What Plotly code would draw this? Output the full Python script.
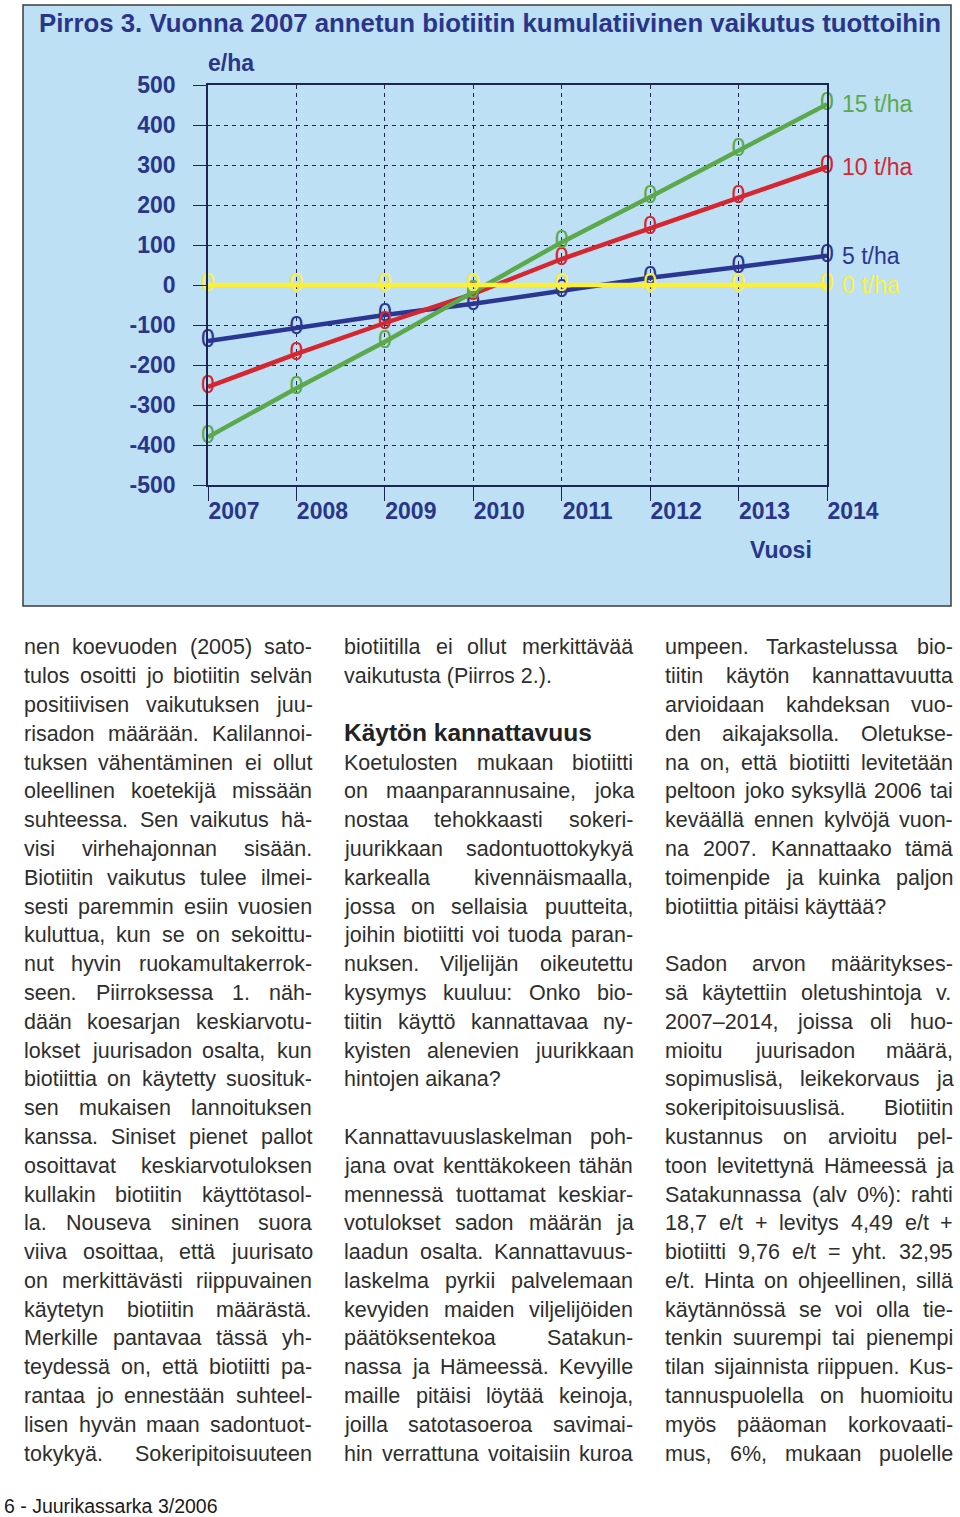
import plotly.graph_objects as go

W, H = 960, 1517

# ---------------- data ----------------
years = [2007, 2008, 2009, 2010, 2011, 2012, 2013, 2014]
effect_5 = [-140, -108, -75, -47, -15, 18, 45, 73]
effect_10 = [-255, -172, -95, -22, 65, 142, 220, 295]
effect_15 = [-380, -258, -142, -16, 107, 220, 337, 452]
effect_0 = [0, 0, 0, 0, 0, 0, 0, 0]
series_names = ["5 t/ha", "10 t/ha", "15 t/ha", "0 t/ha"]
y_ticks = [-500, -400, -300, -200, -100, 0, 100, 200, 300, 400, 500]
y_ticktext = ["-500", "-400", "-300", "-200", "-100", "0", "100", "200", "300", "400", "500"]
x_ticktext = ["2007", "2008", "2009", "2010", "2011", "2012", "2013", "2014"]

title_text = "Pirros 3. Vuonna 2007 annetun biotiitin kumulatiivinen vaikutus tuottoihin"
y_label = "e/ha"
x_label = "Vuosi"
footer_text = "6 - Juurikassarka 3/2006"

# body text: (line, justified)
col1 = [
    ("nen koevuoden (2005) sato-", True),
    ("tulos osoitti jo biotiitin selvän", True),
    ("positiivisen vaikutuksen juu-", True),
    ("risadon määrään. Kalilannoi-", True),
    ("tuksen vähentäminen ei ollut", True),
    ("oleellinen koetekijä missään", True),
    ("suhteessa. Sen vaikutus hä-", True),
    ("visi virhehajonnan sisään.", True),
    ("Biotiitin vaikutus tulee ilmei-", True),
    ("sesti paremmin esiin vuosien", True),
    ("kuluttua, kun se on sekoittu-", True),
    ("nut hyvin ruokamultakerrok-", True),
    ("seen. Piirroksessa 1. näh-", True),
    ("dään koesarjan keskiarvotu-", True),
    ("lokset juurisadon osalta, kun", True),
    ("biotiittia on käytetty suosituk-", True),
    ("sen mukaisen lannoituksen", True),
    ("kanssa. Siniset pienet pallot", True),
    ("osoittavat keskiarvotuloksen", True),
    ("kullakin biotiitin käyttötasol-", True),
    ("la. Nouseva sininen suora", True),
    ("viiva osoittaa, että juurisato", True),
    ("on merkittävästi riippuvainen", True),
    ("käytetyn biotiitin määrästä.", True),
    ("Merkille pantavaa tässä yh-", True),
    ("teydessä on, että biotiitti pa-", True),
    ("rantaa jo ennestään suhteel-", True),
    ("lisen hyvän maan sadontuot-", True),
    ("tokykyä. Sokeripitoisuuteen", True),
]
col2 = [
    ("biotiitilla ei ollut merkittävää", True),
    ("vaikutusta (Piirros 2.).", False),
    ("", False),
    ("HEADING:Käytön kannattavuus", False),
    ("Koetulosten mukaan biotiitti", True),
    ("on maanparannusaine, joka", True),
    ("nostaa tehokkaasti sokeri-", True),
    ("juurikkaan sadontuottokykyä", True),
    ("karkealla kivennäismaalla,", True),
    ("jossa on sellaisia puutteita,", True),
    ("joihin biotiitti voi tuoda paran-", True),
    ("nuksen. Viljelijän oikeutettu", True),
    ("kysymys kuuluu: Onko bio-", True),
    ("tiitin käyttö kannattavaa ny-", True),
    ("kyisten alenevien juurikkaan", True),
    ("hintojen aikana?", False),
    ("", False),
    ("Kannattavuuslaskelman poh-", True),
    ("jana ovat kenttäkokeen tähän", True),
    ("mennessä tuottamat keskiar-", True),
    ("votulokset sadon määrän ja", True),
    ("laadun osalta. Kannattavuus-", True),
    ("laskelma pyrkii palvelemaan", True),
    ("kevyiden maiden viljelijöiden", True),
    ("päätöksentekoa Satakun-", True),
    ("nassa ja Hämeessä. Kevyille", True),
    ("maille pitäisi löytää keinoja,", True),
    ("joilla satotasoeroa savimai-", True),
    ("hin verrattuna voitaisiin kuroa", True),
]
col3 = [
    ("umpeen. Tarkastelussa bio-", True),
    ("tiitin käytön kannattavuutta", True),
    ("arvioidaan kahdeksan vuo-", True),
    ("den aikajaksolla. Oletukse-", True),
    ("na on, että biotiitti levitetään", True),
    ("peltoon joko syksyllä 2006 tai", True),
    ("keväällä ennen kylvöjä vuon-", True),
    ("na 2007. Kannattaako tämä", True),
    ("toimenpide ja kuinka paljon", True),
    ("biotiittia pitäisi käyttää?", False),
    ("", False),
    ("Sadon arvon määritykses-", True),
    ("sä käytettiin oletushintoja v.", True),
    ("2007–2014, joissa oli huo-", True),
    ("mioitu juurisadon määrä,", True),
    ("sopimuslisä, leikekorvaus ja", True),
    ("sokeripitoisuuslisä. Biotiitin", True),
    ("kustannus on arvioitu pel-", True),
    ("toon levitettynä Hämeessä ja", True),
    ("Satakunnassa (alv 0%): rahti", True),
    ("18,7 e/t + levitys 4,49 e/t +", True),
    ("biotiitti 9,76 e/t = yht. 32,95", True),
    ("e/t. Hinta on ohjeellinen, sillä", True),
    ("käytännössä se voi olla tie-", True),
    ("tenkin suurempi tai pienempi", True),
    ("tilan sijainnista riippuen. Kus-", True),
    ("tannuspuolella on huomioitu", True),
    ("myös pääoman korkovaati-", True),
    ("mus, 6%, mukaan puolelle", True),
]

# ---------------- styles ----------------
FONT = "Liberation Sans, Arial, Helvetica, sans-serif"
NAVY = "#2a3589"
LINECOL = "#1e2550"
GRID = "#1e2550"
BG = "#bde0f5"
BLUE = "#2b3592"
RED = "#d6262f"
GREEN = "#5ba94a"
YELLOW = "#fbf035"
TEXTCOL = "#2e2e2e"
colors = [BLUE, RED, GREEN, YELLOW]
values = [effect_5, effect_10, effect_15, effect_0]


def px(x):
    return x / W


def py(y):
    return 1 - y / H


# Helvetica/Arial advance widths (per 1000 em)
HW = {" ": 278, ".": 278, ",": 278, ":": 278, ";": 278, "-": 333, "–": 556,
      "(": 333, ")": 333, "?": 556, "%": 889, "/": 278, "+": 584, "=": 584,
      "ä": 556, "ö": 556, "å": 556, "Ä": 667, "Ö": 778}
HW.update(dict(zip("abcdefghijklmnopqrstuvwxyz",
                   [556, 556, 500, 556, 556, 278, 556, 556, 222, 222, 500, 222, 833,
                    556, 556, 556, 556, 333, 500, 278, 556, 500, 722, 500, 500, 500])))
HW.update(dict(zip("ABCDEFGHIJKLMNOPQRSTUVWXYZ",
                   [667, 667, 722, 722, 667, 611, 778, 722, 278, 500, 667, 556, 833,
                    722, 778, 667, 778, 722, 667, 611, 722, 667, 944, 667, 667, 611])))
for d in "0123456789":
    HW[d] = 556


def tw(s, fs):
    return sum(HW.get(c, 556) for c in s) * fs / 1000.0


fig = go.Figure()

for name, vals, col in zip(series_names, values, colors):
    fig.add_trace(go.Scatter(
        x=years, y=vals, mode="lines+text", name=name,
        text=["0"] * len(years), textposition="middle center",
        textfont=dict(family=FONT, size=25, color=col),
        line=dict(color=col, width=4.5),
        cliponaxis=False, showlegend=False, hoverinfo="skip"))

annotations = []

# series end labels
for name, vals, col in zip(series_names, values, colors):
    annotations.append(dict(
        x=years[-1], y=vals[-1], xref="x", yref="y", text=name, showarrow=False,
        xanchor="left", yanchor="middle", xshift=15, borderpad=0, borderwidth=0,
        font=dict(family=FONT, size=23, color=col)))

# title and axis labels
annotations.append(dict(x=px(39), y=py(22.5), xref="paper", yref="paper", text=title_text,
                        showarrow=False, xanchor="left", yanchor="middle", borderpad=0,
                        borderwidth=0,
                        font=dict(family=FONT, size=25.8, color=NAVY, weight="bold")))
annotations.append(dict(x=px(208), y=py(63.5), xref="paper", yref="paper", text=y_label,
                        showarrow=False, xanchor="left", yanchor="middle", borderpad=0,
                        borderwidth=0,
                        font=dict(family=FONT, size=23, color=NAVY, weight="bold")))
annotations.append(dict(x=px(750), y=py(550), xref="paper", yref="paper", text=x_label,
                        showarrow=False, xanchor="left", yanchor="middle", borderpad=0,
                        borderwidth=0,
                        font=dict(family=FONT, size=23, color=NAVY, weight="bold")))

# body text
BODY_FS = 21.5
LINE0 = 647.5
LSTEP = 28.79
columns = [(col1, 24, 312), (col2, 344, 633), (col3, 665, 953)]
for lines, left, right in columns:
    for i, (line, just) in enumerate(lines):
        if not line:
            continue
        yc = LINE0 + i * LSTEP
        if line.startswith("HEADING:"):
            annotations.append(dict(
                x=px(left), y=py(yc - 1), xref="paper", yref="paper",
                text=line[len("HEADING:"):], showarrow=False, xanchor="left",
                yanchor="middle", borderpad=0, borderwidth=0,
                font=dict(family=FONT, size=24.5, color="#222222", weight="bold")))
            continue
        words = line.split()
        if just and len(words) > 1:
            total = sum(tw(w, BODY_FS) for w in words)
            gap = (right - left - total) / (len(words) - 1)
            x = left
            for w in words:
                annotations.append(dict(
                    x=px(x), y=py(yc), xref="paper", yref="paper", text=w,
                    showarrow=False, xanchor="left", yanchor="middle", borderpad=0,
                    borderwidth=0, font=dict(family=FONT, size=BODY_FS, color=TEXTCOL)))
                x += tw(w, BODY_FS) + gap
        else:
            annotations.append(dict(
                x=px(left), y=py(yc), xref="paper", yref="paper", text=line,
                showarrow=False, xanchor="left", yanchor="middle", borderpad=0,
                borderwidth=0, font=dict(family=FONT, size=BODY_FS, color=TEXTCOL)))

annotations.append(dict(x=px(4), y=py(1505.5), xref="paper", yref="paper", text=footer_text,
                        showarrow=False, xanchor="left", yanchor="middle", borderpad=0,
                        borderwidth=0, font=dict(family=FONT, size=19.5, color="#1a1a1a")))

shapes = [dict(type="rect", xref="paper", yref="paper", x0=px(23), x1=px(951),
               y0=py(606), y1=py(5), fillcolor=BG, line=dict(color="#3c3c3c", width=1.5),
               layer="below")]

fig.update_layout(
    width=W, height=H, margin=dict(l=0, r=0, t=0, b=0, pad=0),
    paper_bgcolor="white", plot_bgcolor="rgba(0,0,0,0)",
    showlegend=False, annotations=annotations, shapes=shapes,
    font=dict(family=FONT),
)

fig.update_xaxes(
    domain=[208 / W, 827 / W], range=[2007, 2014], autorange=False,
    tickvals=years, ticktext=x_ticktext, ticks="outside", ticklen=14, tickwidth=1.3,
    tickcolor=LINECOL, showline=True, mirror=True, linecolor=LINECOL, linewidth=1.5,
    showgrid=True, gridcolor=GRID, gridwidth=1.1, griddash="4px,4px", zeroline=False,
    tickfont=dict(family=FONT, size=23, color=NAVY, weight="bold"),
    ticklabelshift=26, ticklabelstandoff=-9, automargin=False, fixedrange=True)

fig.update_yaxes(
    domain=[1 - 485 / H, 1 - 85 / H], range=[-500, 500], autorange=False,
    tickvals=y_ticks, ticktext=y_ticktext, ticks="outside", ticklen=13, tickwidth=1.3,
    tickcolor=LINECOL, showline=True, mirror=True, linecolor=LINECOL, linewidth=1.5,
    showgrid=True, gridcolor=GRID, gridwidth=1.1, griddash="4px,4px", zeroline=False,
    tickfont=dict(family=FONT, size=23, color=NAVY, weight="bold"),
    ticklabelstandoff=13, automargin=False, fixedrange=True)

fig.write_html("out.html")
